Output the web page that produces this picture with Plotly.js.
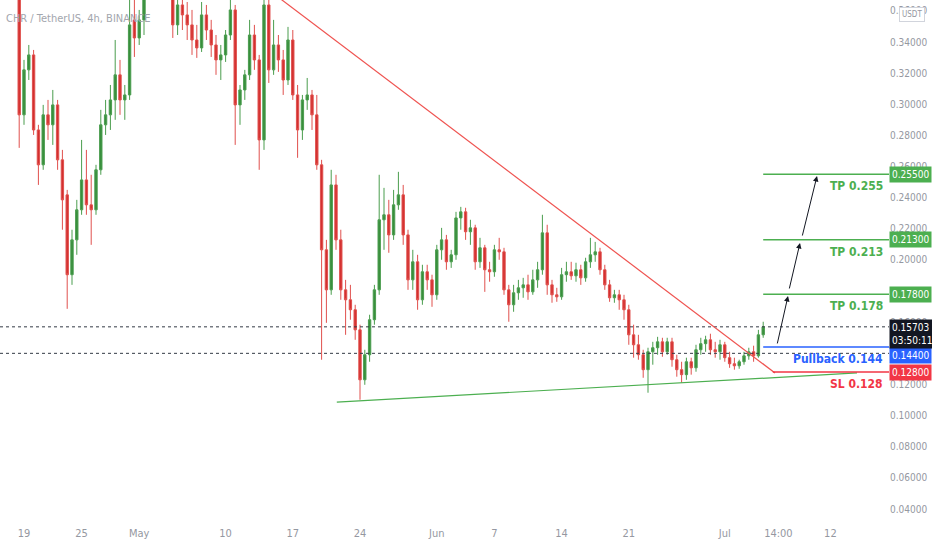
<!DOCTYPE html>
<html>
<head>
<meta charset="utf-8">
<script src="https://cdn.plot.ly/plotly-3.0.1.min.js"></script>
<style>
html,body{margin:0;padding:0;background:#fff;}
#chart{width:932px;height:550px;}
</style>
</head>
<body>
<div id="chart"></div>
<script>
// ---- Data (12h candles) ----
const startTime = [2021, 3, 18, 12]; // 2021-04-18 12:00, step 12h
const opens = [0.3798,0.2932,0.3221,0.3317,0.2835,0.2611,0.2932,0.2868,0.2996,0.2643,
0.2418,0.1905,0.2129,0.2322,0.2514,0.2354,0.2322,0.2579,0.2868,0.2932,
0.3028,0.3189,0.3028,0.3060,0.3542,0.3426,0.3542,0.3702,0.3798,0.3863,
0.3831,0.3766,0.3702,0.3510,0.3638,0.3574,0.3510,0.3413,0.3362,0.3574,
0.3477,0.3381,0.3285,0.3317,0.3445,0.3606,0.2996,0.3092,0.3189,0.3445,
0.3285,0.2771,0.3638,0.3221,0.3381,0.3285,0.3156,0.3413,0.3060,0.2835,
0.3028,0.3060,0.2932,0.2611,0.2065,0.1808,0.2482,0.2129,0.1808,0.1744,
0.1680,0.1551,0.1230,0.1391,0.1616,0.1808,0.2258,0.2290,0.2161,0.2354,
0.2418,0.2161,0.1872,0.1988,0.1744,0.1924,0.1872,0.1776,0.2065,0.2129,
0.1988,0.2033,0.2270,0.2309,0.2181,0.2206,0.1988,0.2078,0.1937,0.1924,
0.2065,0.2052,0.1808,0.1712,0.1789,0.1821,0.1840,0.1795,0.1872,0.1937,
0.2174,0.1840,0.1776,0.1763,0.1905,0.1924,0.1898,0.1937,0.1885,0.1988,
0.2033,0.2052,0.1937,0.1840,0.1757,0.1776,0.1744,0.1680,0.1519,0.1455,
0.1391,0.1295,0.1410,0.1436,0.1474,0.1410,0.1474,0.1359,0.1295,0.1263,
0.1346,0.1307,0.1423,0.1462,0.1487,0.1423,0.1410,0.1455,0.1372,0.1333,
0.1320,0.1346,0.1384,0.1410,0.1384,0.1519];
const highs = [0.3831,0.3285,0.3381,0.3349,0.2868,0.2996,0.3028,0.3092,0.3028,0.2707,
0.2450,0.2194,0.2386,0.2771,0.2707,0.2547,0.2611,0.2964,0.3028,0.3124,
0.3413,0.3285,0.3124,0.3702,0.3670,0.3606,0.3734,0.3863,0.3927,0.3959,
0.3927,0.3863,0.3766,0.3670,0.3702,0.3657,0.3606,0.3510,0.3657,0.3638,
0.3542,0.3445,0.3381,0.3477,0.3702,0.3638,0.3124,0.3221,0.3542,0.3510,
0.3317,0.3702,0.3670,0.3542,0.3445,0.3349,0.3497,0.3477,0.3124,0.3060,
0.3169,0.3092,0.3060,0.2643,0.2129,0.2579,0.2547,0.2194,0.1872,0.1840,
0.1712,0.1584,0.1423,0.1648,0.1840,0.2547,0.2463,0.2386,0.2450,0.2566,
0.2482,0.2194,0.2065,0.2033,0.1969,0.1969,0.1905,0.2097,0.2206,0.2161,
0.2065,0.2309,0.2341,0.2335,0.2258,0.2226,0.2142,0.2097,0.1988,0.2097,
0.2142,0.2078,0.1840,0.1840,0.1872,0.1885,0.1905,0.1937,0.1988,0.2290,
0.2226,0.1872,0.1821,0.1949,0.1988,0.1988,0.1982,0.1969,0.2014,0.2142,
0.2116,0.2078,0.1969,0.1872,0.1808,0.1808,0.1776,0.1712,0.1584,0.1519,
0.1423,0.1436,0.1474,0.1506,0.1500,0.1500,0.1500,0.1391,0.1346,0.1372,
0.1372,0.1455,0.1500,0.1513,0.1526,0.1474,0.1487,0.1474,0.1410,0.1372,
0.1359,0.1410,0.1436,0.1449,0.1551,0.1603];
const lows = [0.2720,0.2868,0.3156,0.2803,0.2482,0.2579,0.2771,0.2739,0.2579,0.2194,
0.1686,0.1840,0.2033,0.2290,0.2290,0.2097,0.2290,0.2547,0.2803,0.2835,
0.2900,0.2932,0.2900,0.3028,0.3304,0.3381,0.3445,0.3683,0.3734,0.3798,
0.3734,0.3683,0.3426,0.3445,0.3477,0.3413,0.3317,0.3298,0.3336,0.3413,
0.3304,0.3189,0.3156,0.3272,0.3413,0.2739,0.2868,0.3028,0.3156,0.3221,
0.2579,0.2707,0.3137,0.3189,0.3208,0.3060,0.3124,0.3028,0.2656,0.2771,
0.2964,0.2835,0.2579,0.1359,0.1596,0.1776,0.2065,0.1744,0.1519,0.1616,
0.1487,0.1102,0.1198,0.1346,0.1584,0.1776,0.2065,0.2046,0.2129,0.2322,
0.2097,0.1808,0.1808,0.1680,0.1712,0.1808,0.1699,0.1744,0.2001,0.1937,
0.1949,0.2001,0.2194,0.2129,0.2097,0.1937,0.1949,0.1795,0.1860,0.1892,
0.2001,0.1776,0.1603,0.1667,0.1744,0.1757,0.1744,0.1776,0.1821,0.1905,
0.1776,0.1725,0.1731,0.1744,0.1860,0.1872,0.1860,0.1840,0.1860,0.1949,
0.1988,0.1905,0.1808,0.1731,0.1725,0.1680,0.1616,0.1455,0.1372,0.1359,
0.1243,0.1147,0.1327,0.1391,0.1378,0.1391,0.1314,0.1250,0.1211,0.1230,
0.1263,0.1282,0.1391,0.1410,0.1391,0.1372,0.1359,0.1346,0.1307,0.1295,
0.1301,0.1327,0.1359,0.1346,0.1372,0.1500];
const closes = [0.2932,0.3221,0.3317,0.2835,0.2611,0.2932,0.2868,0.2996,0.2643,0.2386,
0.1905,0.2129,0.2322,0.2514,0.2354,0.2322,0.2579,0.2868,0.2932,0.3028,
0.3189,0.3028,0.3060,0.3510,0.3426,0.3542,0.3702,0.3798,0.3863,0.3831,
0.3766,0.3702,0.3510,0.3638,0.3574,0.3510,0.3413,0.3362,0.3574,0.3477,
0.3381,0.3285,0.3317,0.3445,0.3606,0.2996,0.3092,0.3189,0.3445,0.3285,
0.2771,0.3638,0.3221,0.3381,0.3285,0.3156,0.3413,0.3060,0.2835,0.3028,
0.3060,0.2932,0.2611,0.2065,0.1808,0.2482,0.2129,0.1808,0.1744,0.1680,
0.1551,0.1230,0.1391,0.1616,0.1808,0.2258,0.2290,0.2161,0.2354,0.2418,
0.2161,0.1872,0.1988,0.1744,0.1924,0.1872,0.1776,0.2065,0.2129,0.1988,
0.2033,0.2270,0.2309,0.2181,0.2206,0.1988,0.2078,0.1937,0.1924,0.2065,
0.2052,0.1808,0.1712,0.1789,0.1821,0.1840,0.1795,0.1872,0.1937,0.2174,
0.1840,0.1776,0.1763,0.1905,0.1924,0.1898,0.1937,0.1885,0.1988,0.2033,
0.2052,0.1937,0.1840,0.1757,0.1776,0.1744,0.1680,0.1519,0.1455,0.1391,
0.1295,0.1410,0.1436,0.1474,0.1410,0.1474,0.1359,0.1295,0.1263,0.1346,
0.1307,0.1423,0.1462,0.1487,0.1423,0.1410,0.1455,0.1372,0.1333,0.1320,
0.1346,0.1384,0.1410,0.1384,0.1519,0.15703];

const lastPrice = 0.15703;
const countdown = '03:50:11';
const dottedLevel = 0.1400;

const xTickVals = ['2021-04-19','2021-04-25','2021-05-01','2021-05-10','2021-05-17','2021-05-24',
  '2021-06-01','2021-06-07','2021-06-14','2021-06-21','2021-07-01','2021-07-06 14:00','2021-07-12'];
const xTickText = ['19','25','May','10','17','24','Jun','7','14','21','Jul','14:00','12'];
const yTickVals = [0.04,0.06,0.08,0.10,0.12,0.14,0.16,0.18,0.20,0.22,0.24,0.26,0.28,0.30,0.32,0.34,0.36];

const levelNames  = ['TP 0.255','TP 0.213','TP 0.178','Pullback 0.144','SL 0.128'];
const levelValues = [0.255, 0.213, 0.178, 0.144, 0.128];
const levelStart  = ['2021-07-05 00:00','2021-07-05 00:00','2021-07-05 00:00','2021-07-05 00:00','2021-07-06 00:00'];
const levelColors = ['#4caf50','#4caf50','#4caf50','#2962ff','#f23645'];
const boxShift    = [0, 0, 0, -8, 0];

const resistX = ['2021-05-13 00:00','2021-07-06 05:30'];
const resistY = [0.3804, 0.1274];
const supportX = ['2021-05-21 14:00','2021-07-14 18:30'];
const supportY = [0.1087, 0.1274];

const arrowTailX = ['2021-07-06 10:30','2021-07-07 16:30','2021-07-09 01:00'];
const arrowTailY = [0.1454, 0.1807, 0.2147];
const arrowHeadX = ['2021-07-07 14:00','2021-07-08 20:00','2021-07-10 14:30'];
const arrowHeadY = [0.1768, 0.2109, 0.2539];

const xRange = ['2021-04-16 12:00','2021-07-18 02:30'];
const yRange = [0.02973, 0.36698];

// ---- build ----
function fmt(ms){
  const d = new Date(ms);
  const p = n => String(n).padStart(2,'0');
  return d.getUTCFullYear()+'-'+p(d.getUTCMonth()+1)+'-'+p(d.getUTCDate())+' '+p(d.getUTCHours())+':00';
}
const t0 = Date.UTC(startTime[0], startTime[1], startTime[2], startTime[3]);
const times = opens.map((_, i) => fmt(t0 + i*12*3600*1000));

const FONT = '"DejaVu Sans Condensed", "Liberation Sans Narrow", sans-serif';

const trace = {
  type: 'candlestick',
  x: times, open: opens, high: highs, low: lows, close: closes,
  increasing: {line: {color: '#4a9d4e', width: 1}, fillcolor: '#388e3c'},
  decreasing: {line: {color: '#e0504d', width: 1}, fillcolor: '#d32f2f'},
  hoverinfo: 'skip', showlegend: false
};

const shapes = [];
const annotations = [];

// dotted price lines
[lastPrice, dottedLevel].forEach(v => shapes.push({
  type: 'line', xref: 'paper', x0: 0, x1: 1, yref: 'y', y0: v, y1: v,
  line: {color: '#333a45', width: 1, dash: 'dot'}
}));

// trend lines
shapes.push({type: 'line', xref: 'x', yref: 'y', x0: resistX[0], y0: resistY[0], x1: resistX[1], y1: resistY[1],
  line: {color: '#ef5350', width: 1.2}});
shapes.push({type: 'line', xref: 'x', yref: 'y', x0: supportX[0], y0: supportY[0], x1: supportX[1], y1: supportY[1],
  line: {color: '#4caf50', width: 1.2}});

// level lines, texts and axis boxes
levelValues.forEach((v, i) => {
  shapes.push({type: 'line', xref: 'x', yref: 'y', x0: levelStart[i], x1: xRange[1], y0: v, y1: v,
    line: {color: levelColors[i], width: 1.5}});
  annotations.push({xref: 'paper', x: 1, xanchor: 'right', xshift: -4, yref: 'y', y: v, yanchor: 'top', yshift: -3,
    text: levelNames[i], showarrow: false, font: {family: FONT, size: 12, color: levelColors[i], weight: 'bold'}});
  annotations.push({xref: 'paper', x: 1, xanchor: 'left', xshift: 0, yref: 'y', y: v, yanchor: 'middle', yshift: boxShift[i],
    text: v.toFixed(5), showarrow: false, bgcolor: levelColors[i], borderpad: 2,
    font: {family: FONT, size: 10, color: '#ffffff'}});
});

// last price box
annotations.push({xref: 'paper', x: 1, xanchor: 'left', xshift: 0, yref: 'y', y: lastPrice, yanchor: 'middle', yshift: -7,
  text: lastPrice.toFixed(5) + '<br>' + countdown, showarrow: false, bgcolor: '#131722', borderpad: 2, align: 'left',
  font: {family: FONT, size: 10, color: '#ffffff'}});

// arrows
arrowHeadX.forEach((hx, i) => annotations.push({
  xref: 'x', yref: 'y', x: hx, y: arrowHeadY[i], axref: 'x', ayref: 'y', ax: arrowTailX[i], ay: arrowTailY[i],
  text: '', showarrow: true, arrowhead: 2, arrowsize: 1.1, arrowwidth: 1, arrowcolor: '#131722'
}));

// title
annotations.push({xref: 'paper', yref: 'paper', x: 0, y: 1, xanchor: 'left', yanchor: 'top', xshift: 4, yshift: -10,
  text: 'CHR / TetherUS, 4h, BINANCE', showarrow: false, font: {family: FONT, size: 11, color: '#a3a6ad'}});

// currency box
annotations.push({xref: 'paper', yref: 'paper', x: 1, y: 1, xanchor: 'left', yanchor: 'top', xshift: 10, yshift: -7,
  text: 'USDT', showarrow: false, bgcolor: '#ffffff', bordercolor: '#d1d4dc', borderwidth: 1, borderpad: 2,
  font: {family: FONT, size: 8, color: '#9598a1'}});

const layout = {
  width: 932, height: 550,
  margin: {l: 0, r: 43, t: 0, b: 25, pad: 0},
  paper_bgcolor: '#ffffff', plot_bgcolor: '#ffffff',
  showlegend: false, hovermode: false, dragmode: false,
  xaxis: {
    type: 'date', range: xRange, rangeslider: {visible: false},
    tickmode: 'array', tickvals: xTickVals, ticktext: xTickText,
    showgrid: false, zeroline: false, showline: false, ticks: '',
    tickfont: {family: FONT, size: 11, color: '#9598a1'}
  },
  yaxis: {
    side: 'right', range: yRange, tickmode: 'array', tickvals: yTickVals,
    ticktext: yTickVals.map(v => v.toFixed(5)),
    showgrid: false, zeroline: false, showline: false, ticks: '',
    tickfont: {family: FONT, size: 10, color: '#9598a1'}
  },
  shapes: shapes,
  annotations: annotations
};

Plotly.newPlot('chart', [trace], layout, {displayModeBar: false, staticPlot: true});
</script>
</body>
</html>
